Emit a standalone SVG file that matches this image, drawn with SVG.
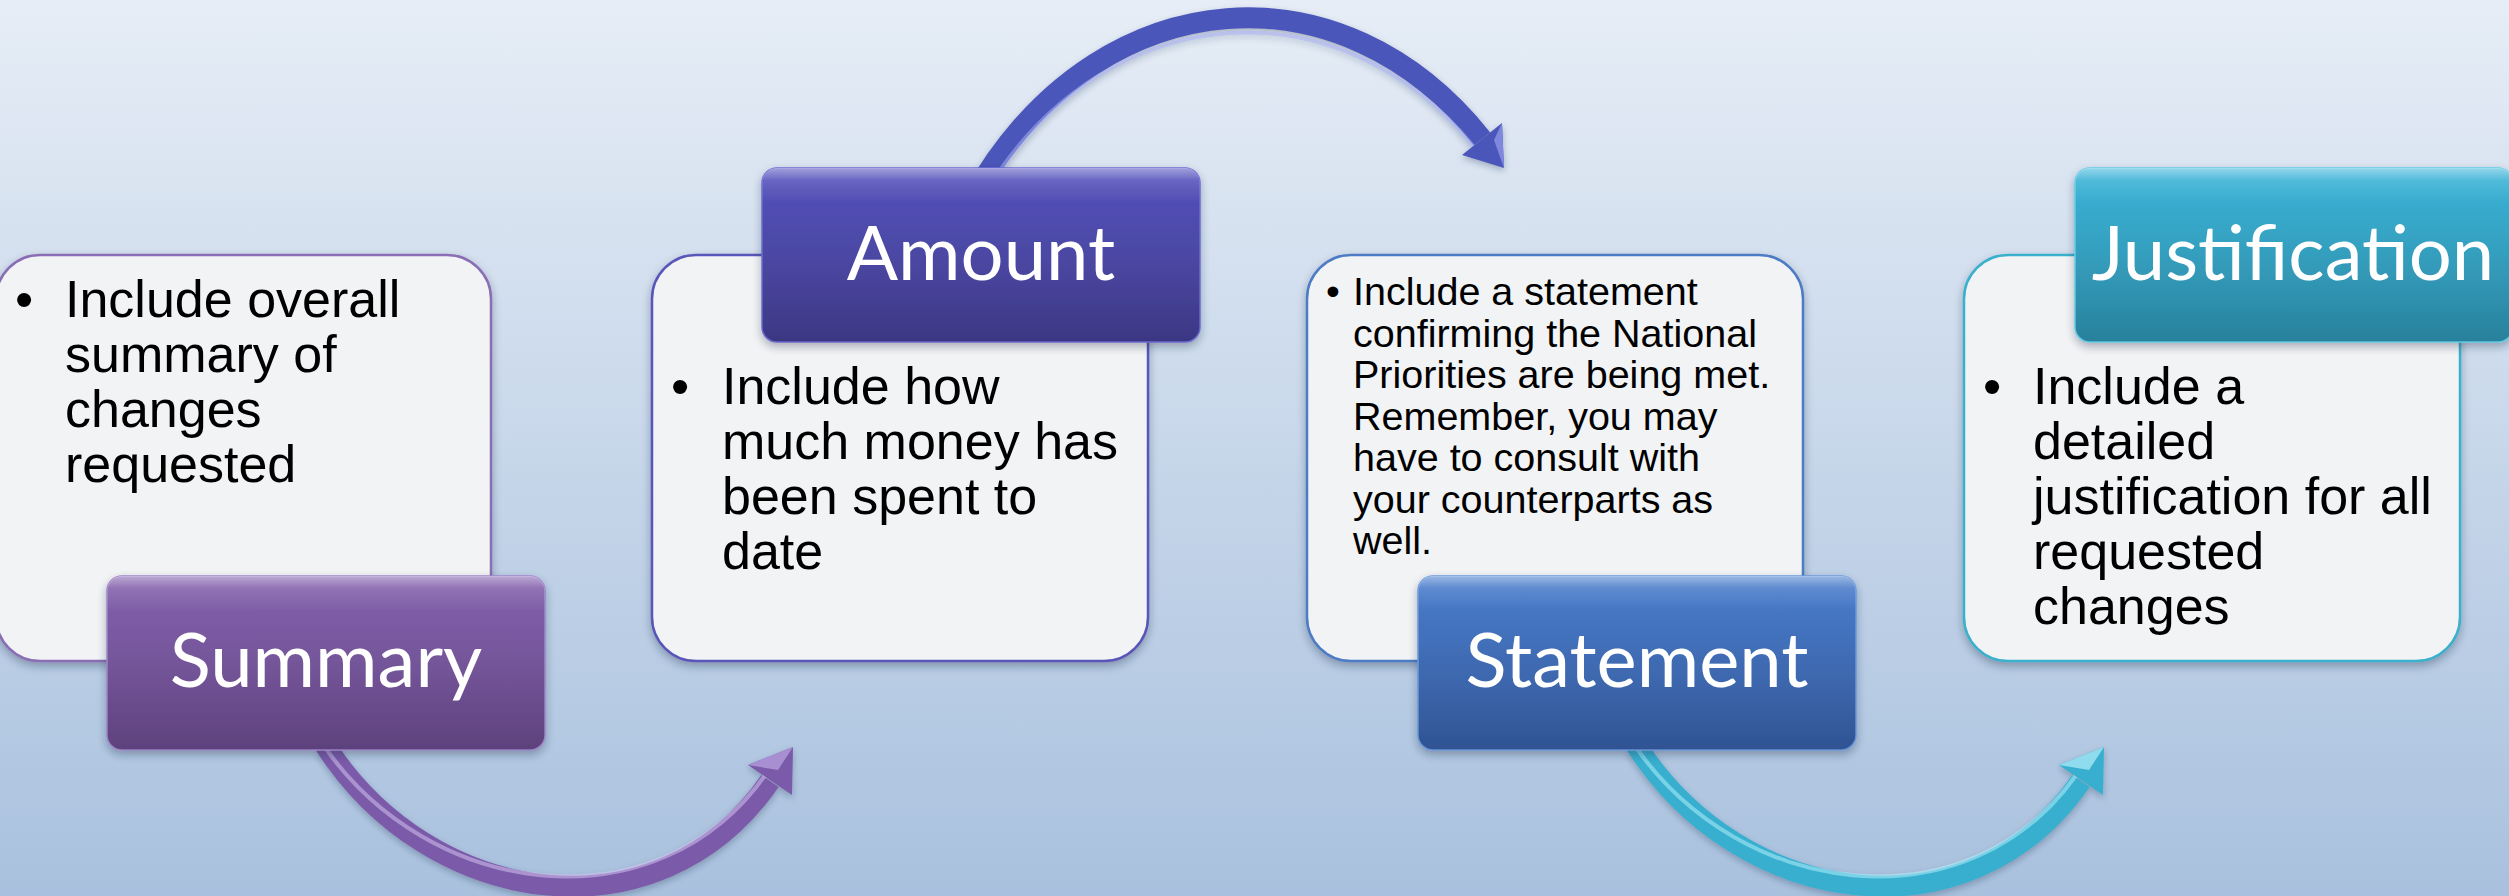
<svg xmlns="http://www.w3.org/2000/svg" width="2509" height="896" viewBox="0 0 2509 896">
  <defs>
    <linearGradient id="bg" x1="0" y1="0" x2="0" y2="1">
      <stop offset="0" stop-color="#e6edf6"/>
      <stop offset="1" stop-color="#a9c1de"/>
    </linearGradient>
    <linearGradient id="gPurple" x1="0" y1="0" x2="0" y2="1">
      <stop offset="0" stop-color="#8563af"/>
      <stop offset="1" stop-color="#614483"/>
    </linearGradient>
    <linearGradient id="gIndigo" x1="0" y1="0" x2="0" y2="1">
      <stop offset="0" stop-color="#5553be"/>
      <stop offset="1" stop-color="#3e3989"/>
    </linearGradient>
    <linearGradient id="gBlue" x1="0" y1="0" x2="0" y2="1">
      <stop offset="0" stop-color="#4a7dcd"/>
      <stop offset="1" stop-color="#31579a"/>
    </linearGradient>
    <linearGradient id="gCyan" x1="0" y1="0" x2="0" y2="1">
      <stop offset="0" stop-color="#3bb5d9"/>
      <stop offset="1" stop-color="#2987a3"/>
    </linearGradient>
    <linearGradient id="gloss" x1="0" y1="0" x2="0" y2="1">
      <stop offset="0" stop-color="#ffffff" stop-opacity="0.45"/>
      <stop offset="0.07" stop-color="#ffffff" stop-opacity="0.12"/>
      <stop offset="0.2" stop-color="#ffffff" stop-opacity="0"/>
      <stop offset="1" stop-color="#000000" stop-opacity="0.05"/>
    </linearGradient>
    <filter id="sh" x="-10%" y="-10%" width="120%" height="130%">
      <feDropShadow dx="0" dy="4" stdDeviation="4" flood-color="#1e2a44" flood-opacity="0.35"/>
    </filter>
    <filter id="ash" x="-10%" y="-10%" width="120%" height="130%">
      <feDropShadow dx="0" dy="3" stdDeviation="3" flood-color="#1e2a44" flood-opacity="0.3"/>
    </filter>
  </defs>
  <style>
    .box { fill: #f2f3f5; stroke-width: 2.5; filter: url(#sh); }
    .lbl { filter: url(#sh); }
    .gl { fill: url(#gloss); }
    .lt { font-family: Lato, "Open Sans", sans-serif; font-size: 76px; fill: #ffffff; text-anchor: middle; }
    .bt { font-family: "Liberation Sans", Arial, sans-serif; font-size: 52px; fill: #000000; }
    .bs { font-family: "Liberation Sans", Arial, sans-serif; font-size: 39.5px; fill: #000000; }
    .arc { fill: none; stroke-width: 21; stroke-linecap: butt; }
    .hl { fill: none; stroke-width: 4; stroke-opacity: 0.55; }
  </style>

  <rect x="0" y="0" width="2509" height="896" fill="url(#bg)"/>

  <g id="connectors">
    <g id="arrow-summary-amount" filter="url(#ash)">
      <path class="arc" stroke="#7a5aa9" d="M325 745 C430 909 659 942 770 781"/>
      <path class="hl" stroke="#d4c3f0" d="M322 752 C428 905 655 935 764 780" transform="translate(2,-6)"/>
      <polygon points="748,765 793,747 792,795" fill="#7a5aa9"/>
      <polygon points="748,765 793,747 778,770" fill="#a88fd2"/>
    </g>
    <g id="arrow-amount-statement" filter="url(#ash)">
      <path class="arc" stroke="#4b57bb" d="M984 178 C1108 -19 1342 -37 1482 139"/>
      <path class="hl" stroke="#a9b1f2" d="M992 176 C1112 -8 1338 -25 1474 141" transform="translate(0,6)"/>
      <polygon points="1462,155 1502,123 1504,168" fill="#4b57bb"/>
      <polygon points="1502,123 1504,168 1494,140" fill="#7f88de"/>
    </g>
    <g id="arrow-statement-justification" filter="url(#ash)">
      <path class="arc" stroke="#37afcf" d="M1636 745 C1741 909 1970 942 2081 781"/>
      <path class="hl" stroke="#b3eefb" d="M1633 752 C1739 905 1966 935 2075 780" transform="translate(2,-6)"/>
      <polygon points="2059,765 2104,747 2103,795" fill="#37afcf"/>
      <polygon points="2059,765 2104,747 2089,770" fill="#8fdcef"/>
    </g>
  </g>

  <g id="node-summary">
    <rect class="box" x="-4" y="255" width="495" height="406" rx="44" stroke="#8a6db4"/>
    <text class="bt" x="15" y="317">•</text>
    <text class="bt" x="65" y="317">Include overall</text>
    <text class="bt" x="65" y="372">summary of</text>
    <text class="bt" x="65" y="427">changes</text>
    <text class="bt" x="65" y="482">requested</text>
    <rect class="lbl" x="107" y="576" width="438" height="174" rx="15" fill="url(#gPurple)" stroke="#9e85c8" stroke-width="1.5"/>
    <rect class="gl" x="107" y="576" width="438" height="174" rx="15"/>
    <text class="lt" x="326" y="687">Summary</text>
  </g>

  <g id="node-amount">
    <rect class="box" x="652" y="255" width="496" height="406" rx="44" stroke="#5a55b8"/>
    <text class="bt" x="671" y="404">•</text>
    <text class="bt" x="722" y="404">Include how</text>
    <text class="bt" x="722" y="459">much money has</text>
    <text class="bt" x="722" y="514">been spent to</text>
    <text class="bt" x="722" y="569">date</text>
    <rect class="lbl" x="762" y="168" width="438" height="174" rx="15" fill="url(#gIndigo)" stroke="#6d6bd0" stroke-width="1.5"/>
    <rect class="gl" x="762" y="168" width="438" height="174" rx="15"/>
    <text class="lt" x="981" y="280">Amount</text>
  </g>

  <g id="node-statement">
    <rect class="box" x="1307" y="255" width="496" height="406" rx="44" stroke="#4d7cc4"/>
    <text class="bs" x="1326" y="305">•</text>
    <text class="bs" x="1353" y="305">Include a statement</text>
    <text class="bs" x="1353" y="346.5">confirming the National</text>
    <text class="bs" x="1353" y="388">Priorities are being met.</text>
    <text class="bs" x="1353" y="429.5">Remember, you may</text>
    <text class="bs" x="1353" y="471">have to consult with</text>
    <text class="bs" x="1353" y="512.5">your counterparts as</text>
    <text class="bs" x="1353" y="554">well.</text>
    <rect class="lbl" x="1418" y="576" width="438" height="174" rx="15" fill="url(#gBlue)" stroke="#6b98dc" stroke-width="1.5"/>
    <rect class="gl" x="1418" y="576" width="438" height="174" rx="15"/>
    <text class="lt" x="1637" y="687">Statement</text>
  </g>

  <g id="node-justification">
    <rect class="box" x="1964" y="255" width="496" height="406" rx="44" stroke="#3ab0cc"/>
    <text class="bt" x="1983" y="404">•</text>
    <text class="bt" x="2033" y="404">Include a</text>
    <text class="bt" x="2033" y="459">detailed</text>
    <text class="bt" x="2033" y="514">justification for all</text>
    <text class="bt" x="2033" y="569">requested</text>
    <text class="bt" x="2033" y="624">changes</text>
    <rect class="lbl" x="2075" y="168" width="438" height="174" rx="15" fill="url(#gCyan)" stroke="#62cbe6" stroke-width="1.5"/>
    <rect class="gl" x="2075" y="168" width="438" height="174" rx="15"/>
    <text class="lt" x="2293" y="280">Justification</text>
  </g>
</svg>
